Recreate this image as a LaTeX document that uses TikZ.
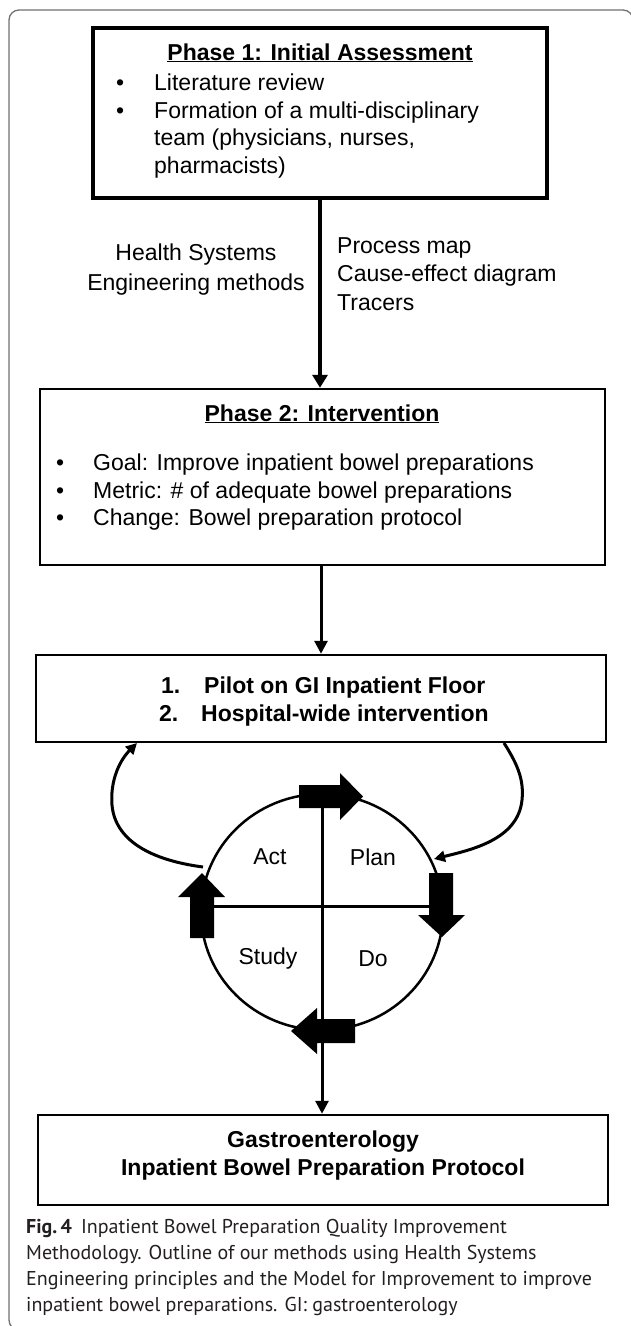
\documentclass[tikz,border=0pt]{standalone}
\usepackage{fontspec}
\setmainfont{Liberation Sans}
\newfontfamily\capfont{PT Sans}
\usetikzlibrary{arrows.meta}
\definecolor{framegray}{HTML}{707070}
\definecolor{captext}{HTML}{231F20}
\tikzset{
  boxa/.style={draw, line width=3.5pt, inner sep=0pt},
  boxb/.style={draw, line width=2.5pt, inner sep=0pt},
  txt/.style={font=\fontsize{23}{27}\selectfont, inner sep=0pt, anchor=base west},
  ctxt/.style={font=\fontsize{23}{27}\selectfont, inner sep=0pt, anchor=base},
  btxt/.style={font=\fontsize{23}{27}\selectfont\bfseries, inner sep=0pt, anchor=base},
  arrA/.style={line width=4.5pt, -{Triangle[length=13pt,width=15pt]}},
  arrB/.style={line width=3pt, -{Triangle[length=13pt,width=13pt]}},
  fb/.style={line width=3pt, -{Triangle[length=11pt,width=11pt]}},
  fat/.style={fill=black},
  pdsa/.style={line width=2.5pt}
}
\begin{document}
\begin{tikzpicture}[x=1pt,y=-1pt]
\useasboundingbox (0,0) rectangle (630,1326);
% outer frame
\draw[framegray, line width=1.3pt, rounded corners=10pt] (40,1330) -- (9,1330) -- (9,10) -- (633,10) -- (633,40);

% boxes
\node[boxa, minimum width=454pt, minimum height=170pt] (b1) at (320,113) {};
\node[boxb, minimum width=565pt, minimum height=176pt] (b2) at (322.5,477) {};
\node[boxb, minimum width=570pt, minimum height=87pt] (b3) at (321,698.5) {};
\node[boxb, minimum width=570pt, minimum height=90pt] (b4) at (323,1160) {};

% box 1 text
\node[btxt] (t1) at (320,60) {\underline{Phase 1: Initial Assessment}};
\node[txt] (b1i1) at (116,90) {\textbullet};
\node[txt] (b1l1) at (154,90) {Literature review};
\node[txt] (b1i2) at (116,118) {\textbullet};
\node[txt] (b1l2) at (154,118) {Formation of a multi-disciplinary};
\node[txt] (b1l3) at (154,145) {team (physicians, nurses,};
\node[txt] (b1l4) at (154,173) {pharmacists)};

% arrow 1 and labels
\draw[arrA] (b1.south) -- (b1.south |- b2.north);
\node[ctxt] (hs1) at (196,260) {Health Systems};
\node[ctxt] (hs2) at (196,290) {Engineering methods};
\node[txt] (pm1) at (337,253) {Process map};
\node[txt] (pm2) at (337,281) {Cause-effect diagram};
\node[txt] (pm3) at (337,310) {Tracers};

% box 2 text
\node[btxt] (t2) at (322,421) {\underline{Phase 2: Intervention}};
\node[txt] (b2i1) at (56,470) {\textbullet};
\node[txt] (b2l1) at (93,470) {Goal: Improve inpatient bowel preparations};
\node[txt] (b2i2) at (56,498) {\textbullet};
\node[txt] (b2l2) at (93,498) {Metric: \# of adequate bowel preparations};
\node[txt] (b2i3) at (56,525) {\textbullet};
\node[txt] (b2l3) at (93,525) {Change: Bowel preparation protocol};

% arrow 2
\draw[arrB] (b3.north |- b2.south) -- (b3.north);

% box 3 text
\node[btxt, anchor=base west] (n1) at (161,693) {1.};
\node[btxt, anchor=base west] (p1) at (204,693) {Pilot on GI Inpatient Floor};
\node[btxt, anchor=base west] (n2) at (159,721) {2.};
\node[btxt, anchor=base west] (p2) at (201,721) {Hospital-wide intervention};

% PDSA cycle
\draw[pdsa] (322,912) ellipse [x radius=121pt, y radius=118pt];
\coordinate (hl) at (214,906);
\coordinate (hr) at (429,906);
\draw[line width=3pt] (hl) -- (hr);
\coordinate (vtop) at (322,808);
\draw[arrB] (vtop) -- (vtop |- b4.north);
% fat arrows
\fill[fat] (299,785) -- (340,785) -- (340,773) -- (363,796.5) -- (340,820) -- (340,808) -- (299,808) -- cycle;
\fill[fat] (429,873) -- (453,873) -- (453,915) -- (465,915) -- (442,937) -- (418,915) -- (429,915) -- cycle;
\fill[fat] (355,1019) -- (317,1019) -- (317,1008) -- (291,1031) -- (317,1054) -- (317,1043) -- (355,1043) -- cycle;
\fill[fat] (190,938) -- (214,938) -- (214,897) -- (225,897) -- (202,873) -- (178,897) -- (190,897) -- cycle;
\node[ctxt, anchor=center] (act) at (270,857) {Act};
\node[ctxt, anchor=center] (plan) at (373,857) {Plan};
\node[ctxt, anchor=center] (study) at (268,959) {Study};
\node[ctxt, anchor=center] (do) at (373,959) {Do};

% feedback arrows
\coordinate (fbLs) at (203,867);
\coordinate (fbLe) at (137,743);
\coordinate (fbRs) at (504,743);
\coordinate (fbRe) at (434,859);
\draw[fb] (fbLs) .. controls (150,860) and (115,840) .. (112,805) .. controls (110,780) and (120,760) .. (fbLe);
\draw[fb] (fbRs) .. controls (518,765) and (524,780) .. (522,800) .. controls (518,840) and (470,850) .. (fbRe);

% box 4 text
\node[btxt] (g1) at (323,1147) {Gastroenterology};
\node[btxt] (g2) at (323,1175) {Inpatient Bowel Preparation Protocol};

% caption (base anchor = baseline of last line)
\node[anchor=base west, inner sep=0pt, align=left, text=captext,
      font=\capfont\fontsize{20}{25.7}\selectfont] (cap) at (26,1311)
  {\textbf{Fig.\,4}\hspace{0.45em}Inpatient Bowel Preparation Quality Improvement\\
   Methodology. Outline of our methods using Health Systems\\
   Engineering principles and the Model for Improvement to improve\\
   inpatient bowel preparations. GI: gastroenterology};
\end{tikzpicture}
\end{document}
